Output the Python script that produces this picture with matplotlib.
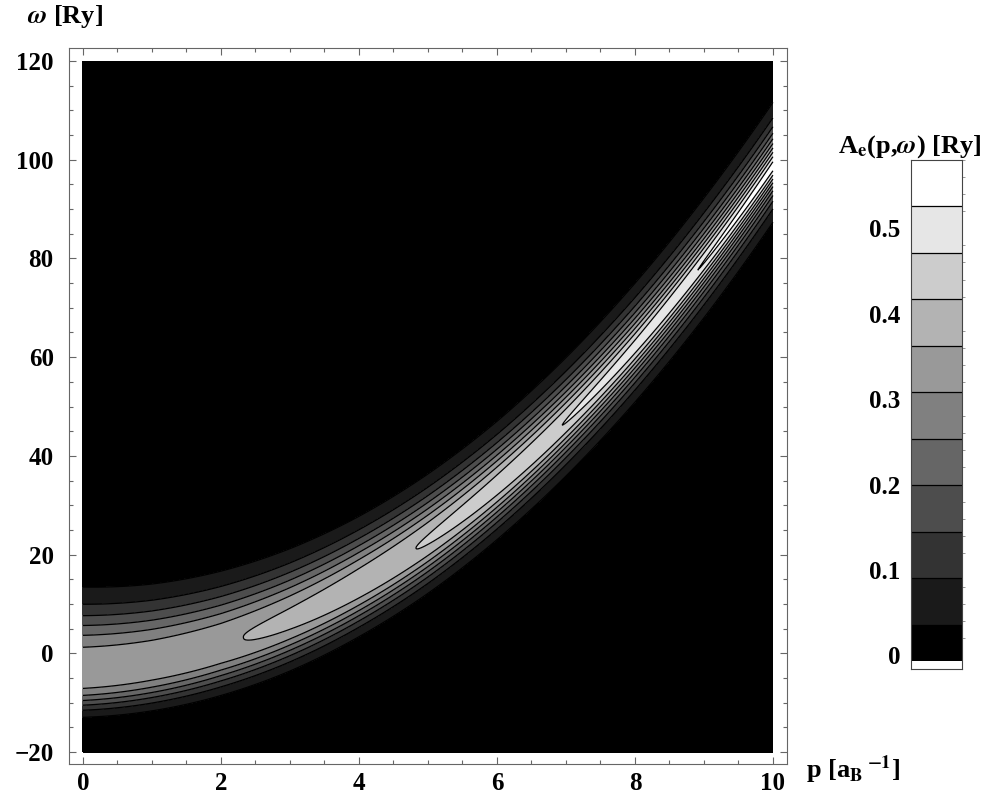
import numpy as np
import matplotlib
matplotlib.use('Agg')
import matplotlib.pyplot as plt
from matplotlib.ticker import MultipleLocator

plt.rcParams['font.family'] = 'Liberation Serif'
plt.rcParams['font.weight'] = 'bold'
plt.rcParams['mathtext.fontset'] = 'stix'

# peak of A_e(p, w): position, height and flank shape sampled along p
p_knots    = [0, 1, 2, 3, 4, 5, 6, 7, 8, 9, 10]
ridge      = [-3.0, -1.5, 2.0, 7.0, 14.0, 23.0, 34.0, 47.0, 62.0, 79.5, 98.5]
height     = [0.345, 0.348, 0.356, 0.376, 0.398, 0.421, 0.446, 0.473, 0.500, 0.529, 0.557]
up_edge    = [16.4, 15.5, 14.8, 14.2, 13.7, 13.3, 13.0, 12.9, 12.9, 13.0, 13.0]
up_shape   = [2.2, 2.2, 2.2, 2.2, 2.2, 2.1, 2.0, 1.85, 1.7, 1.6, 1.5]
low_edge   = [10.0, 10.2, 10.4, 10.6, 10.7, 10.9, 11.0, 11.1, 11.2, 11.3, 11.3]
low_shape  = [3.4, 3.1, 2.8, 2.6, 2.45, 2.3, 2.1, 1.9, 1.75, 1.6, 1.5]

# contour levels [Ry^-1] and fill greys (black -> white)
levels = [0.0355, 0.09, 0.1445, 0.199, 0.2535, 0.308, 0.3625, 0.417, 0.4715, 0.526]
grays = ['#000000', '#1a1a1a', '#333333', '#4d4d4d', '#666666', '#808080',
         '#999999', '#b3b3b3', '#cccccc', '#e6e6e6', '#ffffff']
cb_edges = [-0.0065] + levels + [0.58]
cb_ticks = [0, 0.1, 0.2, 0.3, 0.4, 0.5]
cb_labels = ['0', '0.1', '0.2', '0.3', '0.4', '0.5']

p = np.linspace(0, 10, 601)
w = np.linspace(-20, 120, 1401)
P, W = np.meshgrid(p, w)

w0 = np.polyval(np.polyfit(p_knots, ridge, 3), P)
h = np.interp(P, p_knots, height)
d = W - w0
above = d >= 0
edge = np.where(above, np.interp(P, p_knots, up_edge), np.interp(P, p_knots, low_edge))
q = np.where(above, np.interp(P, p_knots, up_shape), np.interp(P, p_knots, low_shape))
s = edge / np.log(h / levels[0]) ** (1.0 / q)
A = h * np.exp(-(np.abs(d) / s) ** q)

fig = plt.figure(figsize=(9.95, 8.06), dpi=100)
ax = fig.add_axes([0.0693, 0.0521, 0.7216, 0.8883])

ax.contourf(p, w, A, levels=[-1] + levels + [2], colors=grays)
ax.contour(p, w, A, levels=levels, colors='k', linewidths=0.9)

ax.set_xlim(-0.203, 10.203)
ax.set_ylim(-22.43, 122.63)
ax.set_xticks(range(0, 11, 2))
ax.set_yticks(range(-20, 121, 20))
ax.xaxis.set_minor_locator(MultipleLocator(0.5))
ax.yaxis.set_minor_locator(MultipleLocator(5))
ax.tick_params(which='both', direction='in', top=True, right=True,
               color='#666666', labelsize=18)
ax.tick_params(which='major', length=5, width=0.8)
ax.tick_params(which='minor', length=3, width=0.8)
ax.tick_params(axis='x', pad=6)
ax.tick_params(axis='y', pad=11)
for sp in ax.spines.values():
    sp.set_color('#666666')
    sp.set_linewidth(0.8)

fig.text(27 / 995, 1 - 17 / 806, r'$\omega$ [Ry]', fontsize=19, va='center', ha='left')
fig.text(806 / 995, 1 - 770 / 806, r'p [a$_{\mathbf{B}}\,{}^{\mathbf{-1}}$]', fontsize=19,
         va='center', ha='left')

# legend bar
cax = fig.add_axes([0.9156, 0.170, 0.0513, 0.6315])
cax.bar(0.5, np.diff(cb_edges), bottom=cb_edges[:-1], width=1.0, color=grays,
        edgecolor='none')
cax.hlines(levels, 0, 1, colors='k', linewidth=0.9)
cax.set_xlim(0, 1)
cax.set_ylim(-0.016, 0.58)
cax.set_xticks([])
cax.set_yticks(cb_ticks)
cax.set_yticklabels(cb_labels)
cax.yaxis.set_minor_locator(MultipleLocator(0.02))
cax.tick_params(which='major', left=False, right=False, labelsize=18, pad=4)
cax.tick_params(which='minor', left=False, right=True, direction='out',
                length=2, color='#888888')
for sp in cax.spines.values():
    sp.set_color('#444444')
    sp.set_linewidth(0.8)

fig.text(910 / 995, 1 - 147 / 806, r'A$_{\mathbf{e}}$(p,$\omega$) [Ry]', fontsize=19,
         va='center', ha='center')

fig.savefig('out.png', dpi=100)
